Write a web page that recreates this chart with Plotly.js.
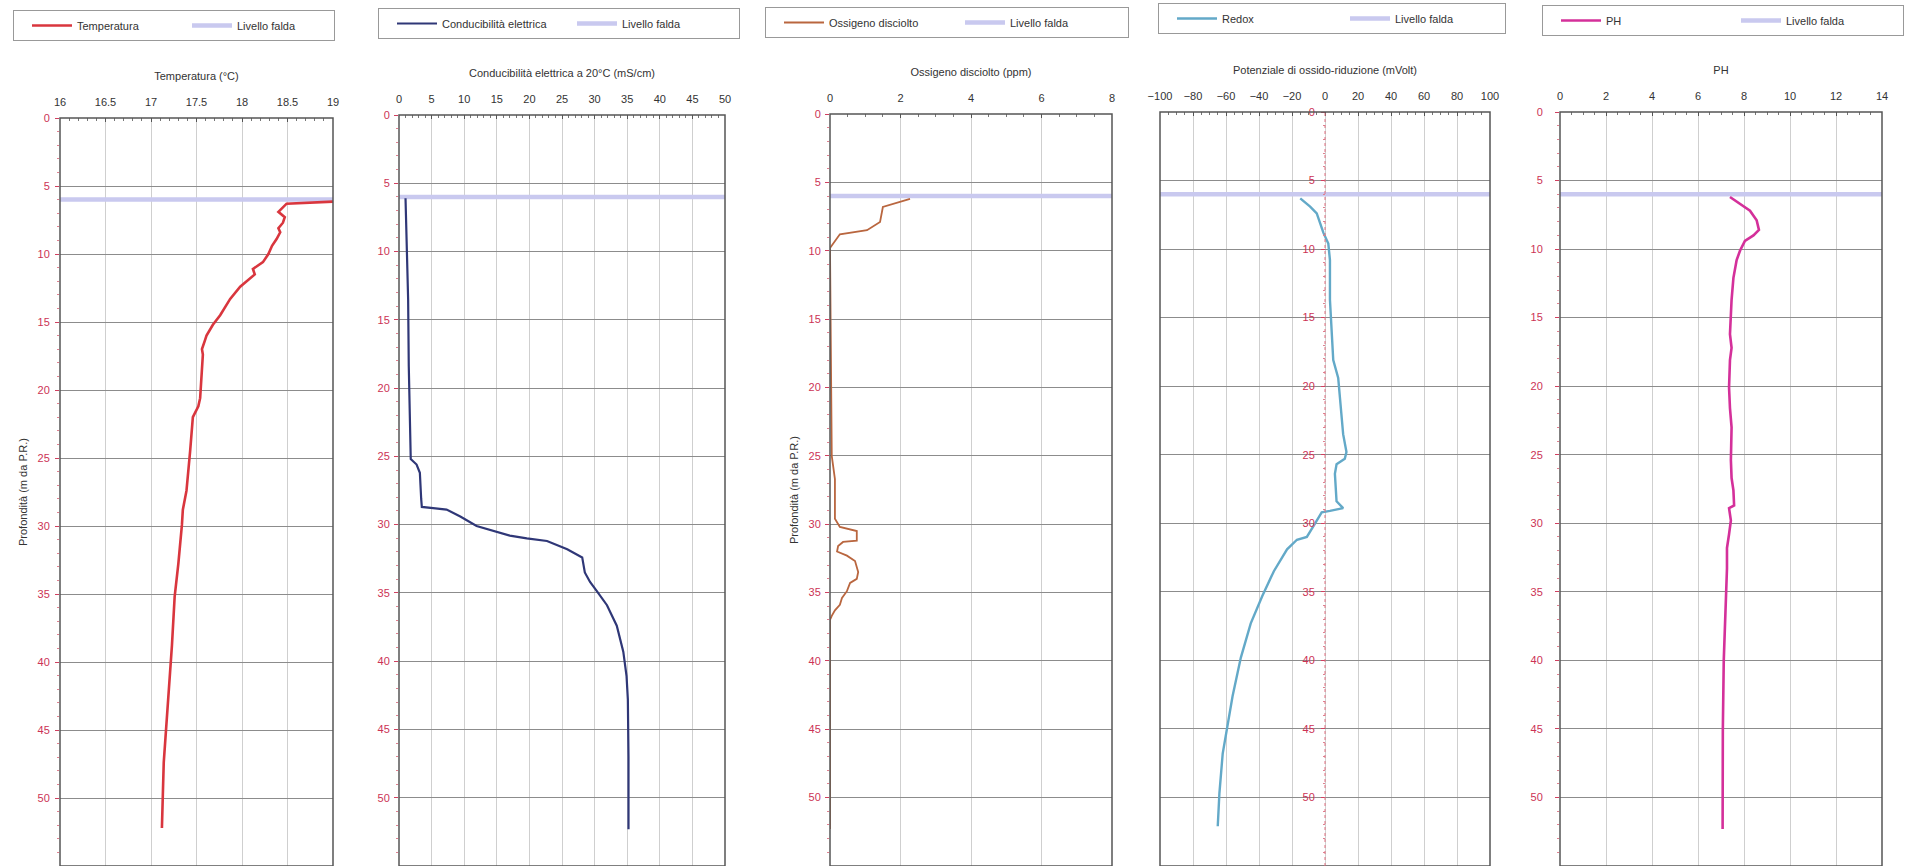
<!DOCTYPE html>
<html><head><meta charset="utf-8">
<script src="https://cdn.plot.ly/plotly-3.0.1.min.js"></script>
<style>html,body{margin:0;padding:0;background:#fff;overflow:hidden}#chart{width:1910px;height:866px}</style>
</head><body><div id="chart"></div><script>
// ---------- data ----------
const faldaDepth = 6.0;

const tempDepth = [6.15, 6.3, 6.9, 7.3, 7.7, 8.1, 8.4, 8.9, 9.4, 10.0, 10.6, 11.1, 11.5, 11.8, 12.4, 13.3, 14.5, 15.2, 16.0, 16.4, 17.0, 17.4, 18.6, 20.6, 21.2, 22.0, 24.5, 27.4, 28.8, 29.9, 32.8, 35.2, 38.8, 42.5, 44.9, 47.4, 49.8, 52.2];
const tempValue = [19.0, 18.49, 18.40, 18.47, 18.45, 18.40, 18.42, 18.38, 18.33, 18.29, 18.23, 18.12, 18.14, 18.09, 17.98, 17.87, 17.76, 17.68, 17.61, 17.59, 17.56, 17.57, 17.56, 17.54, 17.52, 17.46, 17.43, 17.39, 17.35, 17.34, 17.30, 17.26, 17.23, 17.19, 17.16, 17.14, 17.13, 17.12];

const condDepth = [6.1, 7.0, 9.0, 11.0, 13.5, 18.4, 25.2, 25.6, 26.2, 28.1, 28.7, 28.9, 29.4, 30.1, 30.6, 30.8, 31.0, 31.2, 31.8, 32.4, 33.5, 34.2, 34.9, 35.9, 37.4, 39.3, 41.1, 42.8, 47.0, 52.3];
const condValue = [1.0, 1.05, 1.15, 1.25, 1.4, 1.5, 1.8, 2.7, 3.2, 3.4, 3.5, 7.3, 9.4, 11.9, 15.5, 17.0, 19.6, 22.7, 25.8, 28.1, 28.5, 29.3, 30.4, 31.9, 33.4, 34.4, 34.9, 35.1, 35.2, 35.2];

const oxDepth = [6.2, 6.8, 7.9, 8.5, 8.8, 9.3, 9.6, 9.8, 25.0, 26.7, 29.6, 30.2, 30.5, 31.2, 31.3, 31.6, 32.0, 32.3, 32.7, 33.5, 34.0, 34.3, 34.9, 35.4, 35.9, 36.3, 36.7, 37.0, 52.3];
const oxValue = [2.27, 1.5, 1.42, 1.05, 0.28, 0.14, 0.03, 0.0, 0.05, 0.14, 0.14, 0.28, 0.76, 0.76, 0.37, 0.23, 0.2, 0.48, 0.71, 0.8, 0.76, 0.57, 0.48, 0.34, 0.28, 0.14, 0.05, 0.0, 0.0];

const redoxDepth = [6.3, 6.9, 7.4, 8.4, 8.8, 9.6, 10.8, 13.7, 16.2, 18.1, 19.4, 21.0, 23.5, 24.8, 25.3, 25.7, 26.4, 28.4, 28.9, 29.1, 29.2, 30.2, 31.0, 31.2, 31.9, 33.5, 35.3, 37.3, 39.8, 42.6, 44.7, 46.8, 49.7, 52.1];
const redoxValue = [-15, -9, -5, -2, -1, 2, 3, 3, 4, 5, 8, 9, 11, 13, 12, 7, 6, 7, 11, 3, -2, -7, -11, -17, -23, -31, -38, -45, -51, -56, -59, -62, -64, -65];

const phDepth = [6.2, 6.7, 7.2, 7.9, 8.6, 9.0, 9.4, 10.1, 10.8, 12.1, 13.7, 16.2, 17.2, 18.1, 20.1, 21.6, 23.0, 25.4, 26.7, 27.6, 28.7, 28.9, 29.8, 30.8, 31.8, 33.3, 35.7, 40.0, 45.0, 52.3];
const phValue = [7.39, 7.83, 8.26, 8.55, 8.65, 8.41, 8.04, 7.83, 7.68, 7.54, 7.46, 7.39, 7.46, 7.39, 7.35, 7.39, 7.46, 7.43, 7.46, 7.54, 7.57, 7.35, 7.43, 7.35, 7.26, 7.26, 7.22, 7.12, 7.08, 7.07];

const seriesNames = ['Temperatura', 'Conducibilità elettrica', 'Ossigeno disciolto', 'Redox', 'PH'];
const axisTitles = ['Temperatura (°C)', 'Conducibilità elettrica a 20°C (mS/cm)', 'Ossigeno disciolto (ppm)', 'Potenziale di ossido-riduzione (mVolt)', 'PH'];
const xRanges = [[16, 19], [0, 50], [0, 8], [-100, 100], [0, 14]];
const xDticks = [0.5, 5, 2, 20, 2];
const depthRange = [55, 0];
const depthTitle = 'Profondità (m da P.R.)';
const faldaName = 'Livello falda';

// ---------- styling ----------
const W = 1910, H = 866;
const FONT = 'Liberation Sans, Arial, sans-serif';
const panels = [
  {x0: 60,   x1: 333,  top: 118, minor: 0.1, ystand: 3,  ytitle: true,  color: '#d9363e', width: 2.6, lg: {x: 13,   y: 10, ew: 92}},
  {x0: 399,  x1: 725,  top: 115, minor: 1,   ystand: 2,  ytitle: false, color: '#2f3777', width: 2.2, lg: {x: 378,  y: 8,  ew: 112}},
  {x0: 830,  x1: 1112, top: 114, minor: 0.5, ystand: 2,  ytitle: true,  color: '#b9663f', width: 1.8, lg: {x: 765,  y: 7,  ew: 113}},
  {x0: 1160, x1: 1490, top: 112, minor: 5,   ystand: 4,  ytitle: false, color: '#63a9c8', width: 2.4, lg: {x: 1158, y: 3,  ew: 105}},
  {x0: 1560, x1: 1882, top: 112, minor: 0.5, ystand: 10, ytitle: false, color: '#d4309a', width: 2.6, lg: {x: 1542, y: 5,  ew: 112}}
];
const seriesX = [tempValue, condValue, oxValue, redoxValue, phValue];
const seriesY = [tempDepth, condDepth, oxDepth, redoxDepth, phDepth];

const data = [];
const layout = {
  width: W, height: H,
  margin: {l: 0, r: 0, t: 0, b: 0, autoexpand: false},
  paper_bgcolor: '#fff', plot_bgcolor: '#fff',
  font: {family: FONT, size: 11, color: '#333'},
  showlegend: true,
  hovermode: false,
  shapes: []
};

panels.forEach((p, i) => {
  const s = i === 0 ? '' : String(i + 1);
  const xa = 'x' + s, ya = 'y' + s;
  const lg = 'legend' + s;
  const xr = xRanges[i];

  data.push({
    type: 'scatter', mode: 'lines', name: faldaName,
    x: [xr[0], xr[1]], y: [faldaDepth, faldaDepth],
    xaxis: xa, yaxis: ya, legend: lg, legendrank: 2,
    line: {color: '#c9c9ef', width: 4.5}
  });
  data.push({
    type: 'scatter', mode: 'lines', name: seriesNames[i],
    x: seriesX[i], y: seriesY[i],
    xaxis: xa, yaxis: ya, legend: lg, legendrank: 1,
    line: {color: p.color, width: p.width}
  });

  layout['xaxis' + s] = {
    domain: [p.x0 / W, p.x1 / W], range: xr, side: 'top', anchor: ya,
    tick0: xr[0], dtick: xDticks[i],
    ticks: 'inside', ticklen: 4, tickcolor: '#555',
    ticklabelstandoff: 9,
    tickfont: {size: 11, color: '#333'},
    showgrid: true, gridcolor: '#cfcfcf', gridwidth: 1,
    zeroline: false, showline: false,
    minor: {dtick: p.minor, ticks: 'inside', ticklen: 3, tickcolor: '#777', showgrid: false},
    title: {text: axisTitles[i], font: {size: 11, color: '#333'}, standoff: 12},
    fixedrange: true
  };

  const yax = {
    domain: [0, 1 - p.top / H], range: depthRange,
    dtick: 5, tick0: 0,
    ticks: 'outside', ticklen: 4, tickcolor: '#d04060',
    ticklabelstandoff: p.ystand,
    tickfont: {size: 11, color: '#cc3355'},
    showgrid: true, gridcolor: '#8c8c8c', gridwidth: 1,
    zeroline: false, showline: false,
    minor: {dtick: 1, ticks: 'outside', ticklen: 2, tickcolor: '#e08090', showgrid: false},
    fixedrange: true
  };
  if (i === 3) {
    yax.anchor = 'free';
    yax.position = (p.x0 + (p.x1 - p.x0) * (0 - xr[0]) / (xr[1] - xr[0])) / W;
  } else {
    yax.anchor = xa;
  }
  if (p.ytitle) {
    yax.title = {text: depthTitle, font: {size: 11, color: '#333'}, standoff: 7};
  }
  layout['yaxis' + s] = yax;

  // panel frame
  layout.shapes.push({
    type: 'rect', xref: xa + ' domain', yref: ya + ' domain',
    x0: 0, x1: 1, y0: 0, y1: 1, line: {color: '#555', width: 1.5}, layer: 'above'
  });

  layout[lg] = {
    x: p.lg.x / W, y: 1 - p.lg.y / H, xanchor: 'left', yanchor: 'top',
    orientation: 'h', bgcolor: '#fff', bordercolor: '#999', borderwidth: 1,
    font: {family: FONT, size: 11, color: '#333'},
    entrywidth: p.lg.ew, entrywidthmode: 'pixels', itemwidth: 40,
    indentation: 13
  };
});

// red dotted zero line in the redox panel
layout.shapes.push({
  type: 'line', xref: 'x4', yref: 'y4 domain', x0: 0, x1: 0, y0: 0, y1: 1,
  line: {color: '#e07080', width: 1, dash: 'dot'}, layer: 'above'
});

Plotly.newPlot('chart', data, layout, {staticPlot: true, displayModeBar: false});
</script></body></html>
